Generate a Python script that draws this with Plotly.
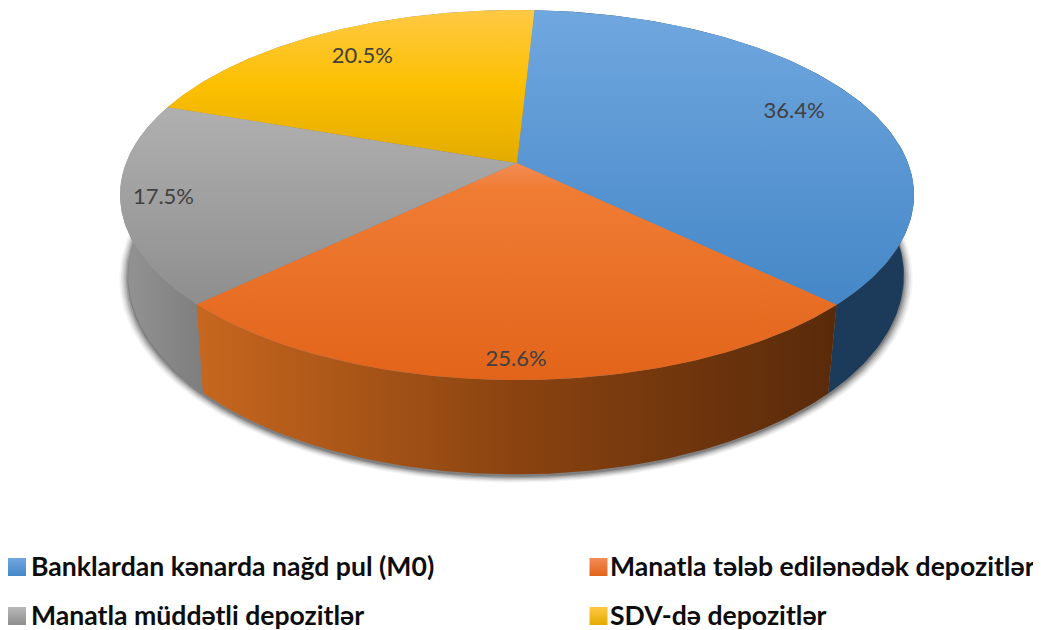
import numpy as np
import plotly.graph_objects as go

categories = ["Banklardan kənarda nağd pul (M0)", "Manatla tələb edilənədək depozitlər",
              "Manatla müddətli depozitlər", "SDV-də depozitlər"]
values = [36.4, 25.6, 17.5, 20.5]

W, H = 1041, 630
PAGE = 8  # the page's own margin around the figure
START = 3.0
TOP = dict(cx=517, cy=163, a=391, b=179.5, k=0.173)
BOT = dict(cx=516, cy=241, a=382, b=193, k=0.173)
# stops listed top-of-picture first
FACE = [[(0, "#70a7df"), (1, "#4587c7")],
        [(0, "#f28c55"), (0.12, "#f07c34"), (1, "#e2641a")],
        [(0, "#b0b0b0"), (1, "#8e8e8e")],
        [(0, "#ffc945"), (0.5, "#fcc000"), (1, "#e2ab00")]]
WALL = [[[0, "#1c3a5a"], [1, "#1c3a5a"]],
        [[0, "#c7671f"], [0.5, "#8a4310"], [1, "#592a0a"]],
        [[0, "#949494"], [1, "#7e7e7e"]],
        [[0, "#8f8f8f"], [1, "#8f8f8f"]]]
SWATCH = [("#4587c7", "#70a7df"), ("#e2641a", "#f28c55"), ("#8e8e8e", "#b8b8b8"), ("#e2ab00", "#ffc945")]
LABEL_R = [0.80, 0.925, 0.895, 0.79]
LEG_POS = [(17, 567), (598.5, 567), (17, 616), (598.5, 616)]
LEG_TEXT_X = [29, 608, 29, 608]


def project(theta_deg, r, m):
    t = np.radians(theta_deg)
    u, v = r * np.sin(t), r * np.cos(t)
    d = 1 + m["k"] * v
    return m["cx"] + m["a"] * u / d, m["cy"] - m["b"] * v / d


def flipped(stops):
    return [[1 - p, c] for p, c in reversed(stops)]


fig = go.Figure()
edges = START + np.concatenate([[0], np.cumsum(values)]) * 360.0 / sum(values)
all_t = np.linspace(0, 360, 361)

# soft shadow beneath the lower rim
for s, op in [(1.022, 0.05), (1.018, 0.07), (1.014, 0.10), (1.010, 0.14), (1.006, 0.18), (1.002, 0.25)]:
    x, y = project(all_t, s, BOT)
    fig.add_trace(go.Scatter(x=x, y=y + 2, mode="lines", fill="toself", line=dict(width=0),
                             fillcolor=f"rgba(40,40,40,{op})", hoverinfo="skip", showlegend=False))

# side walls
for i in range(len(values)):
    t = np.linspace(edges[i], edges[i + 1], 120)
    x1, y1 = project(t, 1, TOP)
    x2, y2 = project(t[::-1], 1, BOT)
    fig.add_trace(go.Scatter(x=np.r_[x1, x2], y=np.r_[y1, y2], mode="lines", fill="toself",
                             line=dict(width=0), hoverinfo="skip", showlegend=False,
                             fillgradient=dict(type="horizontal", colorscale=WALL[i])))

# top faces
for i in range(len(values)):
    t = np.linspace(edges[i], edges[i + 1], 160)
    x, y = project(t, 1, TOP)
    fig.add_trace(go.Scatter(x=np.r_[TOP["cx"], x, TOP["cx"]], y=np.r_[TOP["cy"], y, TOP["cy"]], mode="lines",
                             fill="toself", line=dict(width=0), hoverinfo="skip", showlegend=False,
                             fillgradient=dict(type="vertical", colorscale=flipped(FACE[i]))))

# data labels
mids = (edges[:-1] + edges[1:]) / 2
lx, ly = zip(*[project(m, r, TOP) for m, r in zip(mids, LABEL_R)])
fig.add_trace(go.Scatter(x=lx, y=ly, mode="text", text=[f"{v:.1f}%" for v in values],
                         textposition="middle center", hoverinfo="skip", showlegend=False,
                         textfont=dict(family="Lato, Carlito, sans-serif", size=22, color="#404040")))

# legend
for (px, py), tx, name, (c0, c1) in zip(LEG_POS, LEG_TEXT_X, categories, SWATCH):
    fig.add_trace(go.Scatter(x=[px], y=[py], mode="markers", hoverinfo="skip", showlegend=False,
                             marker=dict(symbol="square", size=18, color=c1, line=dict(width=0),
                                         gradient=dict(type="vertical", color=c0))))
    fig.add_annotation(x=tx, y=py - 1, text=f"<b>{name}</b>", showarrow=False, xanchor="left",
                       yanchor="middle",
                       font=dict(family="Lato, Carlito, sans-serif", size=26.6, color="#0d0d0d"))

fig.update_layout(width=W - PAGE, height=H - PAGE, margin=dict(l=0, r=0, t=0, b=0),
                  paper_bgcolor="white", plot_bgcolor="white", showlegend=False,
                  xaxis=dict(range=[PAGE, W], visible=False, fixedrange=True),
                  yaxis=dict(range=[H, PAGE], visible=False, fixedrange=True))
fig.write_html("out.html", config=dict(displayModeBar=False))
